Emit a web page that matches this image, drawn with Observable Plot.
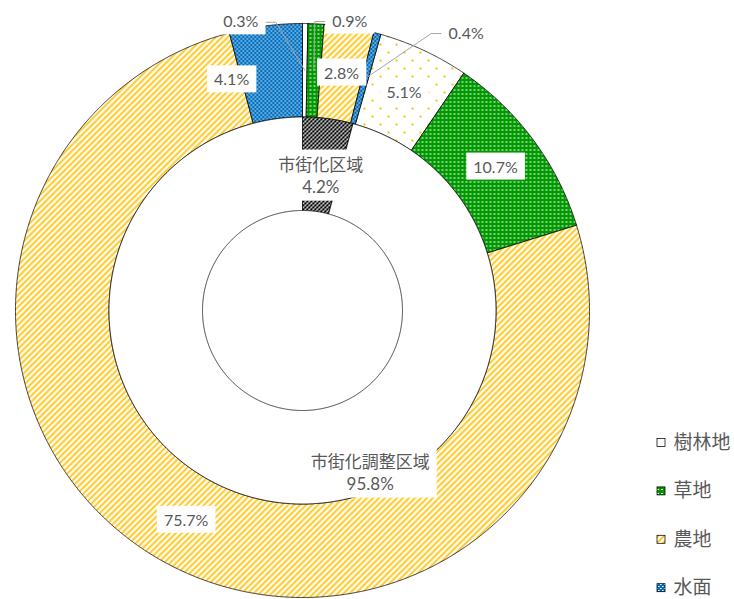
<!DOCTYPE html>
<html>
<head>
<meta charset="utf-8">
<script src="https://cdn.jsdelivr.net/npm/d3@7"></script>
<script src="https://cdn.jsdelivr.net/npm/@observablehq/plot@0.6"></script>
<style>
  html, body { margin: 0; padding: 0; background: #fff; }
  #chart { width: 734px; height: 599px; }
</style>
</head>
<body>
<svg width="0" height="0" style="position:absolute;left:0;top:0" aria-hidden="true">
  <defs>
    <pattern id="p-forest" patternUnits="userSpaceOnUse" width="16" height="16">
      <rect width="16" height="16" fill="#ffffff"/>
      <rect x="3" y="3" width="2" height="2" fill="#FFC000"/>
      <rect x="11" y="11" width="2" height="2" fill="#FFC000"/>
    </pattern>
    <pattern id="p-grass" patternUnits="userSpaceOnUse" width="4" height="4">
      <rect width="4" height="4" fill="#009900"/>
      <rect x="1" y="1" width="2" height="1" fill="#ffffff"/>
    </pattern>
    <pattern id="p-farm" patternUnits="userSpaceOnUse" width="6" height="6">
      <rect width="6" height="6" fill="#ffffff"/>
      <path d="M0,6 L6,0 M-1,1 L1,-1 M5,7 L7,5" stroke="#FFC000" stroke-width="1.7"/>
    </pattern>
    <pattern id="p-water" patternUnits="userSpaceOnUse" width="4" height="4">
      <rect width="4" height="4" fill="#0070C0"/>
      <rect x="0" y="0" width="1" height="1" fill="#ffffff"/>
      <rect x="2" y="2" width="1" height="1" fill="#ffffff"/>
      <rect x="1" y="0" width="1" height="1" fill="#8fbfe6"/>
      <rect x="3" y="2" width="1" height="1" fill="#8fbfe6"/>
    </pattern>
    <pattern id="p-urban" patternUnits="userSpaceOnUse" width="4" height="4">
      <rect width="4" height="4" fill="#000000"/>
      <rect x="0" y="0" width="2" height="1" fill="#ffffff"/>
      <rect x="2" y="2" width="2" height="1" fill="#ffffff"/>
      <rect x="0" y="1" width="1" height="1" fill="#ffffff"/>
      <rect x="2" y="3" width="1" height="1" fill="#ffffff"/>
    </pattern>
  </defs>
</svg>
<div id="chart"></div>
<script>
// ---------------- data ----------------
const landUse = ["樹林地", "草地", "農地", "水面"];
const zones = ["市街化区域", "市街化調整区域"];
const zoneShares = [4.2, 95.8];            // inner ring
const urbanLandShares = [0.3, 0.9, 2.8, 0.4];   // outer ring, 市街化区域 part
const ruralLandShares = [5.1, 10.7, 75.7, 4.1]; // outer ring, 市街化調整区域 part

// ---------------- layout ----------------
const W = 734, H = 599;
const CX = 302, CY = 310;
const R_HOLE = 100, R_MID = 193.5, R_OUT = 287;
const fills = {
  "樹林地": "url(#p-forest)",
  "草地": "url(#p-grass)",
  "農地": "url(#p-farm)",
  "水面": "url(#p-water)",
  "市街化区域": "url(#p-urban)",
  "市街化調整区域": "#ffffff"
};
// manual label nudges (pixels) by outer-slice index, and labels with leader lines
const pctNudge = {0: [-64, -48], 1: [36, -49], 3: [101, -45], 7: [-40, 8]};
const leaderIdx = [0, 1, 3];
const LEADER_HALF = 25, LEADER_ELBOW = 10;
const zoneNudge = {0: [-1, 9.5], 1: [87, 15.5]};
const LEGEND_X0 = 657, LEGEND_SW = 8, LEGEND_TX = 673, LEGEND_Y0 = 442.5, LEGEND_DY = 48.4;

// ---------------- geometry from data ----------------
function ring(values, keys, r0, r1, ringId) {
  const total = d3.sum(values);
  let cum = 0;
  return values.map((v, i) => {
    const a0 = cum / total * 2 * Math.PI; cum += v;
    const a1 = cum / total * 2 * Math.PI;
    return {ringId, i, key: keys[i], value: v, a0, a1, r0, r1, am: (a0 + a1) / 2, rm: (r0 + r1) / 2};
  });
}
const pt = (a, r) => ({x: CX + r * Math.sin(a), y: CY - r * Math.cos(a)});
function poly(s) {
  const n = Math.max(2, Math.ceil((s.a1 - s.a0) / (Math.PI / 720)));
  const out = [];
  for (let k = 0; k <= n; k++) out.push(pt(s.a0 + (s.a1 - s.a0) * k / n, s.r1));
  for (let k = n; k >= 0; k--) out.push(pt(s.a0 + (s.a1 - s.a0) * k / n, s.r0));
  out.push(out[0]);
  return out.map(p => ({...p, id: `${s.ringId}-${s.i}`, key: s.key}));
}

const innerSlices = ring(zoneShares, zones, R_HOLE, R_MID, "inner");
const outerSlices = ring(urbanLandShares.concat(ruralLandShares), landUse.concat(landUse), R_MID, R_OUT, "outer");
const allPolys = innerSlices.concat(outerSlices).flatMap(poly);

const fmt = v => `${v.toFixed(1)}%`;
const pctLabels = outerSlices.map((s, idx) => {
  const c = pt(s.am, s.rm);
  const n = pctNudge[idx] || [0, 0];
  return {idx, x: c.x + n[0], y: c.y + n[1], ax: c.x, ay: c.y, text: fmt(s.value)};
});
const leaderPts = pctLabels.filter(l => leaderIdx.includes(l.idx)).flatMap(l => {
  const side = l.x < l.ax ? 1 : -1;
  const sx = l.x + side * LEADER_HALF;
  return [
    {id: l.idx, x: sx, y: l.y},
    {id: l.idx, x: sx + side * LEADER_ELBOW, y: l.y},
    {id: l.idx, x: l.ax, y: l.ay}
  ];
});
const zoneLabels = innerSlices.map((s, idx) => {
  const c = pt(s.am, s.rm);
  const n = zoneNudge[idx] || [0, 0];
  return {x: c.x + n[0], y: c.y + n[1], text: `${s.key}\n${fmt(s.value)}`};
});
const legendRows = landUse.map((k, i) => ({key: k, y: LEGEND_Y0 + i * LEGEND_DY}));

const sliceMarks = Object.keys(fills).map(k =>
  Plot.line(allPolys.filter(d => d.key === k), {
    x: "x", y: "y", z: "id", fill: fills[k], stroke: "#000", strokeWidth: 0.75
  })
);
const legendMarks = legendRows.map(r =>
  Plot.rect([r], {
    x1: () => LEGEND_X0, x2: () => LEGEND_X0 + LEGEND_SW,
    y1: d => d.y - LEGEND_SW / 2, y2: d => d.y + LEGEND_SW / 2,
    fill: fills[r.key], stroke: "#000", strokeWidth: 0.75
  })
);

const svg = Plot.plot({
  width: W, height: H,
  margin: 0,
  x: {domain: [0, W], range: [0, W], axis: null},
  y: {domain: [0, H], range: [0, H], axis: null},
  style: {background: "#ffffff", color: "#595959", fontFamily: 'Lato, "Noto Sans CJK JP", sans-serif', overflow: "visible"},
  marks: [
    ...sliceMarks,
    Plot.line(leaderPts, {x: "x", y: "y", z: "id", stroke: "#A6A6A6", strokeWidth: 1}),
    Plot.text(pctLabels, {x: "x", y: "y", text: "text", fontSize: 16, fill: "#595959", ariaDescription: "label"}),
    Plot.text(zoneLabels, {x: "x", y: "y", text: "text", fontSize: 17, lineHeight: 1.3, fill: "#595959", ariaDescription: "label"}),
    ...legendMarks,
    Plot.text(legendRows, {x: () => LEGEND_TX, y: "y", text: "key", textAnchor: "start", fontSize: 19, fill: "#595959"})
  ]
});
document.getElementById("chart").append(svg);

// white boxes behind data labels (like the spreadsheet's label fill)
function addBoxes() {
  svg.querySelectorAll("rect.lblbox").forEach(r => r.remove());
  svg.querySelectorAll('g[aria-description="label"]').forEach(g => {
    g.querySelectorAll("text").forEach(t => {
      const b = t.getBBox();
      const r = document.createElementNS("http://www.w3.org/2000/svg", "rect");
      r.setAttribute("class", "lblbox");
      r.setAttribute("x", b.x - 7);
      r.setAttribute("y", b.y - 4);
      r.setAttribute("width", b.width + 14);
      r.setAttribute("height", b.height + 8);
      r.setAttribute("fill", "#ffffff");
      r.setAttribute("stroke", "none");
      const tr = t.getAttribute("transform");
      if (tr) r.setAttribute("transform", tr);
      g.insertBefore(r, t);
    });
  });
}
addBoxes();
if (document.fonts && document.fonts.ready) document.fonts.ready.then(addBoxes);
</script>
</body>
</html>
